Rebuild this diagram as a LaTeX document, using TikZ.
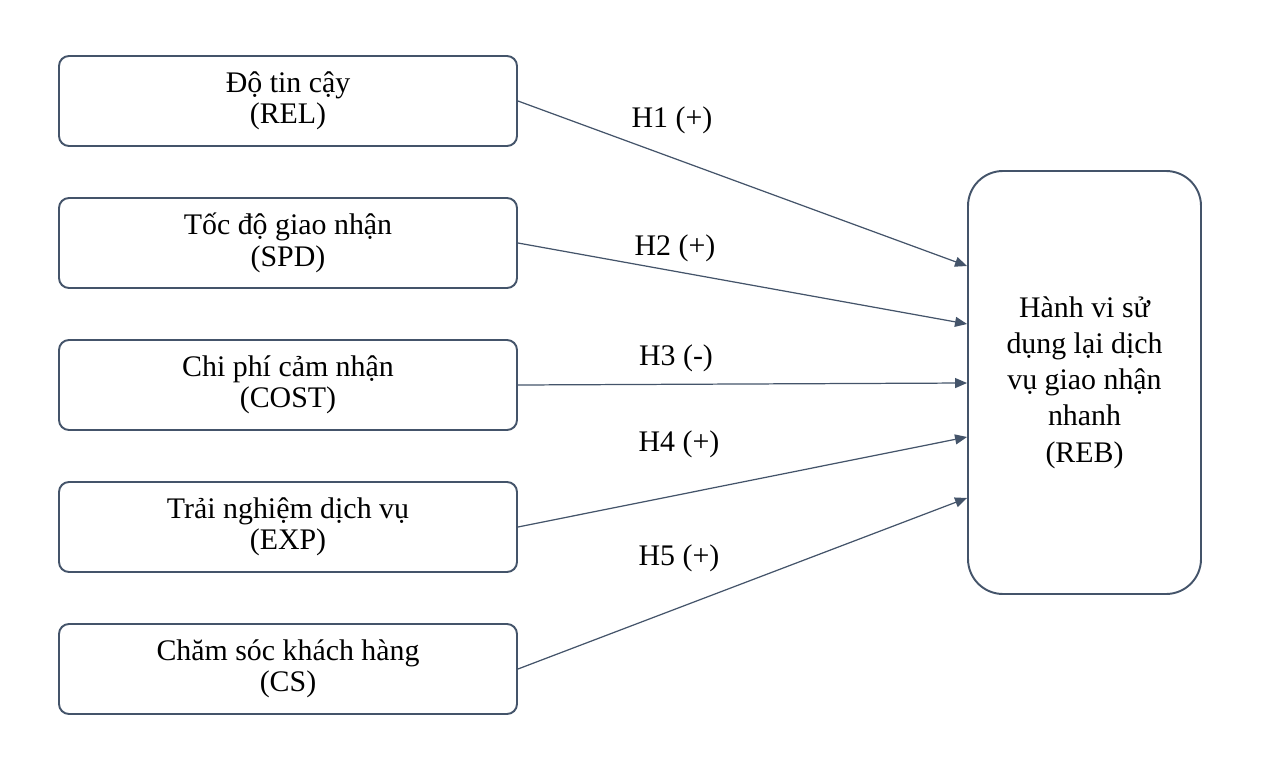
\documentclass[tikz,border=0pt]{standalone}
\usepackage{fontspec}
\setmainfont{Liberation Serif}
\usetikzlibrary{arrows.meta}
\definecolor{slateline}{HTML}{44546A}

\begin{document}
\begin{tikzpicture}[
  factor/.style={draw=slateline, line width=1.1pt, rounded corners=0.2cm,
    minimum width=9.16cm, minimum height=1.8cm, align=center,
    font=\fontsize{17}{17.8}\selectfont},
  outcome/.style={draw=slateline, line width=1.1pt, rounded corners=0.7cm,
    minimum width=4.66cm, minimum height=8.46cm, align=center,
    font=\fontsize{17}{20.6}\selectfont},
  hyp/.style={draw=slateline, line width=0.7pt,
    -{Triangle[length=0.24cm, width=0.2cm]}},
  hlabel/.style={font=\fontsize{17}{20}\selectfont}
]
  \useasboundingbox (0,0) rectangle (25.26,15.2);

  % left factors
  \node[factor] (rel)  at (5.76,13.18) {Độ tin cậy\\(REL)};
  \node[factor] (spd)  at (5.76,10.34) {Tốc độ giao nhận\\(SPD)};
  \node[factor] (cost) at (5.76,7.50)  {Chi phí cảm nhận\\(COST)};
  \node[factor] (exp)  at (5.76,4.66)  {Trải nghiệm dịch vụ\\(EXP)};
  \node[factor] (cs)   at (5.76,1.82)  {Chăm sóc khách hàng\\(CS)};

  % outcome
  \node[outcome] (reb) at (21.69,7.55)
    {Hành vi sử\\dụng lại dịch\\vụ giao nhận\\nhanh\\(REB)};

  % hypotheses
  \draw[hyp] (rel.east)  -- ([yshift=2.33cm]reb.west);
  \draw[hyp] (spd.east)  -- ([yshift=1.17cm]reb.west);
  \draw[hyp] (cost.east) -- ([yshift=-0.01cm]reb.west);
  \draw[hyp] (exp.east)  -- ([yshift=-1.09cm]reb.west);
  \draw[hyp] (cs.east)   -- ([yshift=-2.31cm]reb.west);

  \node[hlabel] (h1) at (13.44,12.80) {H1 (+)};
  \node[hlabel] (h2) at (13.50,10.24) {H2 (+)};
  \node[hlabel] (h3) at (13.52,8.04)  {H3 (-)};
  \node[hlabel] (h4) at (13.58,6.32)  {H4 (+)};
  \node[hlabel] (h5) at (13.58,4.04)  {H5 (+)};
\end{tikzpicture}
\end{document}
